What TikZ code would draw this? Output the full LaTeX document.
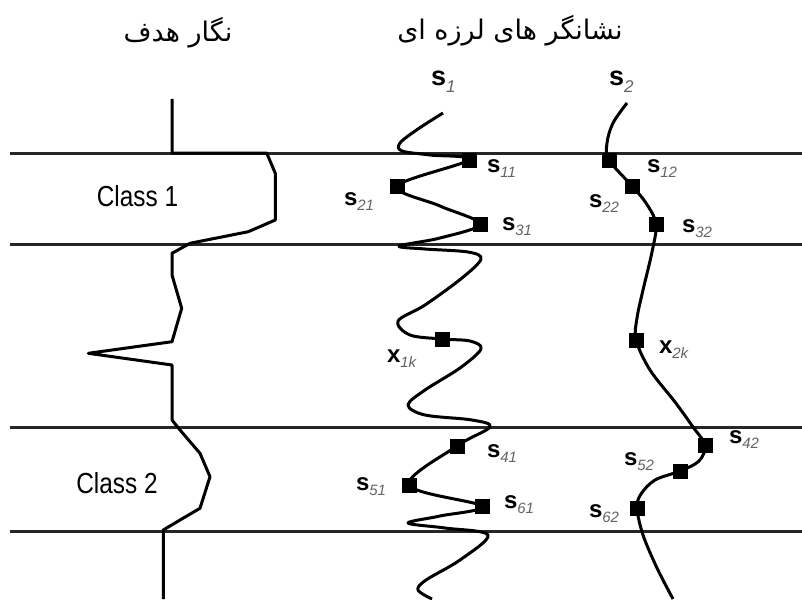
\documentclass[tikz,border=0pt]{standalone}
\usepackage{fontspec}
\setmainfont{Liberation Sans}
\newfontfamily\arabicfont[Script=Arabic]{DejaVu Sans}
\TeXXeTstate=1
\definecolor{subgray}{RGB}{100,100,100}
\newcommand\seislbl[2]{{\fontsize{24}{24}\selectfont\bfseries #1}\raisebox{-5pt}{\fontsize{15}{15}\selectfont\itshape\color{subgray}#2}}
\newcommand\toplbl[2]{{\fontsize{27}{27}\selectfont\bfseries #1}\raisebox{-6pt}{\fontsize{17}{17}\selectfont\itshape\color{subgray}#2}}
\begin{document}
\begin{tikzpicture}[x=1pt,y=-1pt,
  bedline/.style={line width=3pt,black!85},
  logline/.style={line width=3pt,line join=round,black},
  seis/.style={line width=3pt,line join=round,black},
  sq/.style={fill=black,draw=none,minimum size=15pt,inner sep=0pt,outer sep=0pt,rectangle},
  lab/.style={anchor=base west,inner sep=0pt,outer sep=0pt},
  cls/.style={inner sep=0pt,font=\fontsize{29}{29}\selectfont,xscale=0.84},
  ttl/.style={inner sep=0pt,font=\fontsize{27}{30}\selectfont\arabicfont}]
\useasboundingbox[fill=white] (0,0) rectangle (802,599);

% bed boundaries
\foreach \y/\n in {153/a,244/b,427/c,531/d}{
  \coordinate (L\n) at (10,\y);
  \coordinate (R\n) at (802,\y);
  \draw[bedline] (L\n) -- (R\n);
}

% titles
\node[ttl] (t1) at (178,33) {\beginR نگار هدف\endR};
\node[ttl] (t2) at (510,31) {\beginR نشانگر های لرزه ای\endR};

% class labels
\node[cls] (c1) at (137.5,196) {Class 1};
\node[cls] (c2) at (117,483) {Class 2};

% target log
\coordinate (g0) at (172,99);
\coordinate (g20) at (163.3,599);
\draw[logline] (g0) -- (172,153) -- (266.7,153) -- (275.3,173.3) -- (275.3,220)
  -- (248.3,231.7) -- (190,243.3) -- (172,253.3) -- (172,275) -- (181.7,308.3)
  -- (172,341.7) -- (88.3,353.3) -- (172,365) -- (172,420) -- (180,430)
  -- (200,453.3) -- (210,476.7) -- (200,508.3) -- (180,520) -- (163.3,530) -- (g20);

% squares, trace 1
\node[sq] (q11) at (469,160) {};
\node[sq] (q21) at (397,186) {};
\node[sq] (q31) at (480,224) {};
\node[sq] (x1k) at (442,339) {};
\node[sq] (q41) at (457,446) {};
\node[sq] (q51) at (409,485) {};
\node[sq] (q61) at (482,506) {};
% squares, trace 2
\node[sq] (q12) at (609,160) {};
\node[sq] (q22) at (632,186) {};
\node[sq] (q32) at (656,224) {};
\node[sq] (x2k) at (636,340) {};
\node[sq] (q42) at (705,445) {};
\node[sq] (q52) at (680,471) {};
\node[sq] (q62) at (637,508) {};

% end points of traces
\coordinate (a0) at (443,113);
\coordinate (a1) at (432,599);
\coordinate (b0) at (627,103);
\coordinate (b1) at (673,599);

% trace 1
\draw[seis] plot[smooth,tension=0.55] coordinates {
 (a0) (418,129) (400,143) (402,151) (430,155) (q11) (q21) (440,206) (q31)
 (440,238) (399,246) (425,249) (468,252) (481,259) (462,278) (425,305)
 (398,321) (410,335) (x1k) (470,341) (481,349) (460,368) (425,390)
 (408,405) (425,415) (472,420) (490,427) (q41) (q51) (q61)
 (440,516) (408,523) (445,528) (488,535) (460,560) (426,580) (418,590) (a1)};

% trace 2
\draw[seis] plot[smooth,tension=0.55] coordinates {
 (b0) (613,123) (607,143) (q12) (q22) (646,203) (q32) (652,252) (643,290)
 (637,318) (x2k) (650,370) (675,402) (693,427) (q42) (699,461) (q52)
 (655,480) (641,494) (q62) (643,535) (657,568) (b1)};

% trace names
\node[lab] (n1) at (431,86) {\toplbl{s}{1}};
\node[lab] (n2) at (609,86) {\toplbl{s}{2}};

% sample labels
\node[lab] (l11) at (487,172) {\seislbl{s}{11}};
\node[lab] (l21) at (344,205) {\seislbl{s}{21}};
\node[lab] (l31) at (502,230) {\seislbl{s}{31}};
\node[lab] (lx1) at (387,362) {\seislbl{x}{1k}};
\node[lab] (l41) at (487,457) {\seislbl{s}{41}};
\node[lab] (l51) at (356,490) {\seislbl{s}{51}};
\node[lab] (l61) at (504,508) {\seislbl{s}{61}};
\node[lab] (l12) at (647,172) {\seislbl{s}{12}};
\node[lab] (l22) at (589,207) {\seislbl{s}{22}};
\node[lab] (l32) at (682,232) {\seislbl{s}{32}};
\node[lab] (lx2) at (659,353) {\seislbl{x}{2k}};
\node[lab] (l42) at (729,443) {\seislbl{s}{42}};
\node[lab] (l52) at (624,465) {\seislbl{s}{52}};
\node[lab] (l62) at (589,517) {\seislbl{s}{62}};
\end{tikzpicture}
\end{document}
